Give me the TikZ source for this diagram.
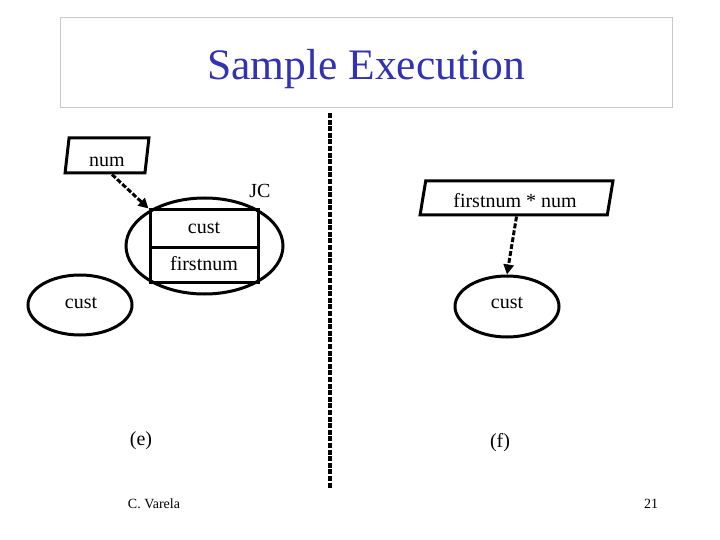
\documentclass[tikz,border=0pt]{standalone}
\usepackage{fontspec}
\setmainfont{Liberation Serif}
\usetikzlibrary{shapes.geometric,arrows.meta,calc}
\definecolor{titleblue}{RGB}{51,51,178}
\definecolor{boxgray}{RGB}{200,200,200}
\begin{document}
\begin{tikzpicture}[x=1pt,y=-1pt,
  lbl/.style={font=\fontsize{20}{24}\selectfont, inner sep=0pt},
  shp/.style={draw, line width=3pt, inner sep=0pt},
  para/.style={shp, trapezium, trapezium stretches=true, font=\fontsize{20}{24}\selectfont},
  oval/.style={shp, ellipse},
  rec/.style={shp, rectangle, minimum width=108pt},
  dasharrow/.style={line width=3pt, dash pattern=on 5pt off 2pt, -{Triangle[length=10pt,width=10pt]}},
  divider/.style={line width=3.6pt, dash pattern=on 5pt off 1.6pt},
  small/.style={font=\fontsize{14}{16}\selectfont, inner sep=0pt}]
\useasboundingbox (0,0) rectangle (720,540);
\fill[white] (0,0) rectangle (720,540);
% title
\node[draw=boxgray, line width=1pt, minimum width=612pt, minimum height=90pt, inner sep=0pt] (titlebox) at (366,63) {};
\node[font=\fontsize{43.5}{50}\selectfont, text=titleblue, inner sep=0pt] (title) at (366,69) {Sample Execution};
% divider
\coordinate (dtop) at (330,113);
\coordinate (dbot) at (330,489);
\draw[divider] (dtop) -- (dbot);
% left part (e)
\node[para, trapezium left angle=79, trapezium right angle=101, minimum width=84pt, minimum height=35pt] (num) at (107,155.5) {\phantom{num}};
\node[lbl] (numtxt) at (107,162) {num};
\node[oval, minimum width=157pt, minimum height=96pt] (jc) at (204.5,246) {};
\node[lbl] (jclbl) at (260,191) {JC};
\node[rec, minimum height=37pt] (cbox) at (204,228.5) {};
\node[rec, minimum height=35pt, anchor=north] (fbox) at ([yshift=3pt]cbox.south) {};
\node[lbl] (cboxtxt) at (204,228) {cust};
\node[lbl] (fboxtxt) at (204,264) {firstnum};
\node[oval, minimum width=104pt, minimum height=60pt] (lcust) at (80,305) {};
\node[lbl] (lcusttxt) at (81,303) {cust};
\draw[dasharrow] ([xshift=5pt]num.south) -- (cbox.north west);
\node[lbl] (e) at (141,441) {(e)};
% right part (f)
\node[para, trapezium left angle=75, trapezium right angle=105, minimum width=193pt, minimum height=34pt] (fn) at (516.5,198) {\phantom{firstnum * num}};
\node[lbl] (fntxt) at (515,201) {firstnum * num};
\node[oval, minimum width=104pt, minimum height=61pt] (rcust) at (507,306.5) {};
\node[lbl] (rcusttxt) at (507,303) {cust};
\draw[dasharrow] (fn.south) -- (rcust.north);
\node[lbl] (f) at (500,443) {(f)};
% footer
\node[small] (author) at (154,504) {C. Varela};
\node[small] (page) at (651,504) {21};
\end{tikzpicture}
\end{document}
